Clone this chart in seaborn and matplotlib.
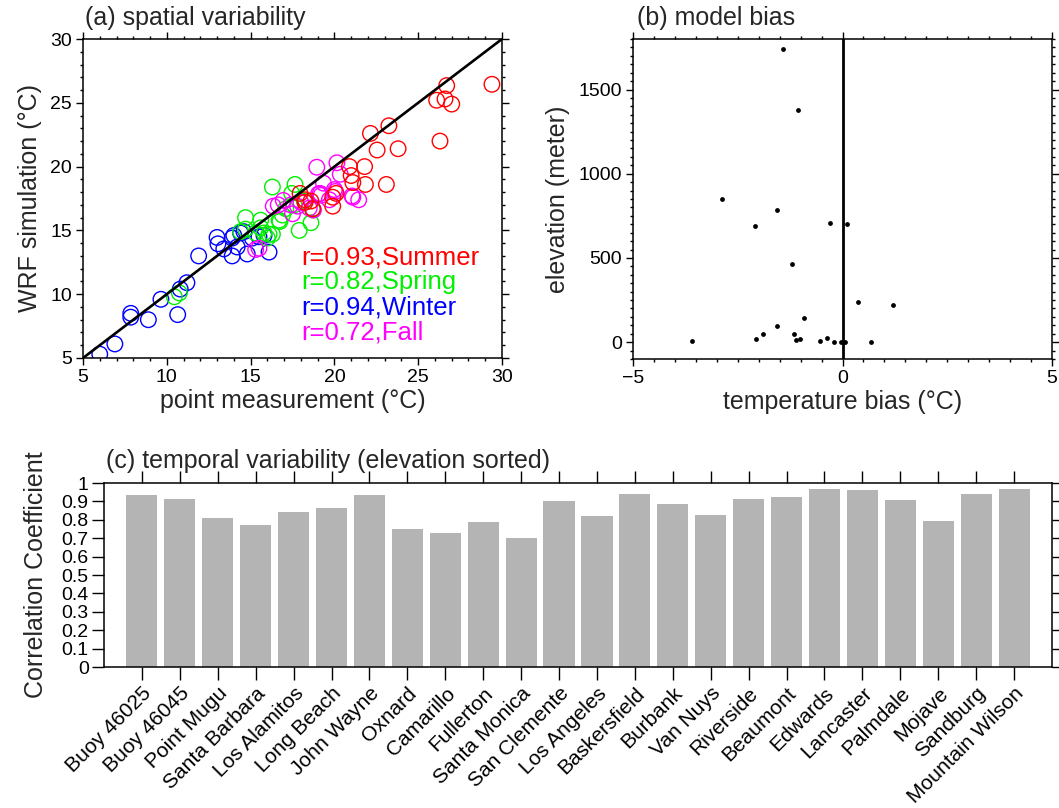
import numpy as np
import pandas as pd
import matplotlib
matplotlib.use("Agg")
import matplotlib.pyplot as plt
from matplotlib.ticker import MultipleLocator
import seaborn as sns

# ---- (a) seasonal mean temperature: point measurement vs WRF simulation ----
summer_obs = [29.4, 26.7, 26.1, 26.6, 27.0, 26.3, 22.15, 23.25, 22.55, 23.8, 20.9, 21.8,
              21.0, 21.1, 21.85, 23.1, 19.9, 20.1, 19.9, 18.25, 18.7, 18.6, 17.95, 18.25]
summer_wrf = [26.45, 26.35, 25.2, 25.3, 24.9, 22.0, 22.6, 23.2, 21.3, 21.4, 20.0, 20.0,
              19.3, 18.75, 18.6, 18.6, 17.6, 17.9, 16.9, 17.4, 16.7, 17.3, 17.9, 17.2]
spring_obs = [10.45, 10.75, 14.4, 14.7, 14.7, 15.3, 15.6, 15.6, 15.8, 16.0, 16.1, 16.3,
              16.3, 16.7, 16.75, 17.1, 17.45, 17.65, 17.9, 18.6, 18.2, 17.6, 16.9, 18.7]
spring_wrf = [9.8, 10.1, 14.9, 15.1, 16.0, 14.8, 15.8, 15.2, 14.8, 14.4, 14.7, 14.7,
              18.4, 15.8, 15.7, 16.7, 17.9, 18.6, 15.0, 15.6, 17.3, 17.0, 16.2, 16.6]
winter_obs = [6.0, 6.9, 7.85, 7.85, 8.9, 9.65, 10.65, 10.8, 11.2, 11.9, 13.0, 13.05,
              13.4, 13.9, 13.9, 14.2, 14.4, 14.8, 15.1, 16.1, 14.0, 14.6, 15.5, 15.8]
winter_wrf = [5.3, 6.1, 8.5, 8.2, 8.0, 9.6, 8.4, 10.4, 10.9, 13.0, 14.45, 13.95,
              13.55, 14.4, 13.0, 13.7, 14.8, 13.15, 14.4, 13.3, 14.6, 14.9, 14.5, 14.6]
fall_obs = [15.3, 15.5, 16.35, 16.65, 16.95, 17.4, 18.5, 18.75, 18.95, 20.15, 20.35, 19.35,
            19.05, 20.05, 21.05, 21.45, 19.15, 19.2, 18.0, 17.8, 21.1, 17.5, 20.0, 19.7]
fall_wrf = [13.5, 13.6, 16.9, 17.0, 17.35, 17.0, 16.75, 16.6, 19.95, 20.3, 19.4, 18.7,
            17.85, 18.05, 17.7, 17.4, 17.9, 17.75, 17.2, 16.9, 17.6, 16.3, 18.2, 17.4]

seasons = ["Summer", "Spring", "Winter", "Fall"]
season_r = [0.93, 0.82, 0.94, 0.72]
season_colors = {"Summer": "#ff0000", "Spring": "#00f000", "Winter": "#0000ff", "Fall": "#ff00ff"}

# ---- (b) station elevation vs temperature bias ----
bias = [-1.42, -1.06, -2.88, -1.56, -2.09, -0.30, 0.11, -1.20, 0.38, 1.21, -0.93, -1.57,
        -1.16, -1.90, -2.07, -3.59, -1.11, -1.01, -0.54, -0.37, -0.21, -0.04, 0.06, 0.67]
elevation = [1741, 1378, 849, 783, 690, 710, 700, 465, 239, 219, 145, 95,
             50, 50, 16, 6, 12, 18, 8, 26, 0, 0, 0, 0]
bias_ticks = [-5, 0, 5]
bias_tick_labels = ["\u22125", "0", "5"]
elev_ticks = [0, 500, 1000, 1500]

# ---- (c) temporal correlation per station, sorted by elevation ----
stations = ["Buoy 46025", "Buoy 46045", "Point Mugu", "Santa Barbara", "Los Alamitos",
            "Long Beach", "John Wayne", "Oxnard", "Camarillo", "Fullerton", "Santa Monica",
            "San Clemente", "Los Angeles", "Baskersfield", "Burbank", "Van Nuys", "Riverside",
            "Beaumont", "Edwards", "Lancaster", "Palmdale", "Mojave", "Sandburg",
            "Mountain Wilson"]
corr = [0.936, 0.914, 0.81, 0.772, 0.843, 0.865, 0.936, 0.75, 0.728, 0.79, 0.70, 0.903,
        0.82, 0.941, 0.887, 0.826, 0.914, 0.925, 0.968, 0.963, 0.909, 0.795, 0.941, 0.968]
corr_ticks = [0, 0.1, 0.2, 0.3, 0.4, 0.5, 0.6, 0.7, 0.8, 0.9, 1.0]
corr_tick_labels = ["0", "0.1", "0.2", "0.3", "0.4", "0.5", "0.6", "0.7", "0.8", "0.9", "1"]

sns.set_theme(style="ticks")
plt.rcParams["font.family"] = ["Liberation Sans", "DejaVu Sans"]
plt.rcParams["axes.linewidth"] = 1.1
plt.rcParams["mathtext.default"] = "regular"

W, H = 1059, 808
fig = plt.figure(figsize=(W / 100, H / 100), dpi=100)


def frac(l, t, r, b):
    return [l / W, 1 - b / H, (r - l) / W, (b - t) / H]


def style_ticks(ax, major_len=5, minor_len=2.5):
    ax.tick_params(which="both", direction="out", top=True, right=True,
                   colors="black", width=1.0, labelsize=14, pad=3)
    ax.tick_params(which="major", length=major_len)
    ax.tick_params(which="minor", length=minor_len)
    for sp in ax.spines.values():
        sp.set_visible(True)
        sp.set_color("black")
        sp.set_linewidth(1.1)


# (a) spatial variability
ax1 = fig.add_axes(frac(83, 39, 502, 358))
frames = []
for name, xo, yw in [("Winter", winter_obs, winter_wrf), ("Spring", spring_obs, spring_wrf),
                     ("Fall", fall_obs, fall_wrf), ("Summer", summer_obs, summer_wrf)]:
    frames.append(pd.DataFrame({"obs": xo, "wrf": yw, "season": name}))
df_a = pd.concat(frames, ignore_index=True)
sns.scatterplot(data=df_a, x="obs", y="wrf", hue="season", palette=season_colors,
                s=125, legend=False, ax=ax1, linewidth=1.0)
pts = ax1.collections[-1]
pts.set_edgecolors(pts.get_facecolors())
pts.set_facecolors("none")
ax1.axline((5, 5), slope=1, color="black", lw=1.9, zorder=3)
ax1.set_xlim(5, 30)
ax1.set_ylim(5, 30)
ax1.xaxis.set_major_locator(MultipleLocator(5))
ax1.yaxis.set_major_locator(MultipleLocator(5))
ax1.xaxis.set_minor_locator(MultipleLocator(1))
ax1.yaxis.set_minor_locator(MultipleLocator(1))
style_ticks(ax1)
ax1.set_xlabel("point measurement (°C)", fontsize=18, labelpad=2)
ax1.set_ylabel("WRF simulation (°C)", fontsize=18, labelpad=6)
for i, (name, r) in enumerate(zip(seasons, season_r)):
    ax1.text(18.05, 12.9 - 1.96 * i, f"r={r:.2f},{name}", color=season_colors[name],
             fontsize=18.5, va="center", ha="left")
fig.text(85 / W, 1 - 18 / H, "(a) spatial variability", fontsize=18, va="center", ha="left")

# (b) model bias
ax2 = fig.add_axes(frac(633, 39, 1052, 359))
df_b = pd.DataFrame({"bias": bias, "elev": elevation})
sns.scatterplot(data=df_b, x="bias", y="elev", color="black", s=12, linewidth=0,
                ax=ax2, zorder=4)
ax2.axvline(0, color="black", lw=2.0, zorder=3)
ax2.set_xticks(bias_ticks, bias_tick_labels)
ax2.set_yticks(elev_ticks)
ax2.xaxis.set_minor_locator(MultipleLocator(0.5))
ax2.yaxis.set_minor_locator(MultipleLocator(50))
ax2.set_xlim(-5, 5)
ax2.set_ylim(-100, 1800)
style_ticks(ax2, major_len=5, minor_len=2)
ax2.set_xlabel("temperature bias (°C)", fontsize=18, labelpad=2)
ax2.set_ylabel("elevation (meter)", fontsize=18, labelpad=6)
fig.text(637 / W, 1 - 18 / H, "(b) model bias", fontsize=18, va="center", ha="left")

# (c) temporal variability
ax3 = fig.add_axes(frac(104, 483, 1052, 667))
df_c = pd.DataFrame({"station": stations, "corr": corr})
sns.barplot(data=df_c, x="station", y="corr", color="#b4b4b4", saturation=1,
            width=0.82, ax=ax3, edgecolor="none", linewidth=0)
ax3.set_xlim(-1, 24)
ax3.set_ylim(0, 1)
ax3.set_yticks(corr_ticks, corr_tick_labels)
style_ticks(ax3, major_len=9)
ax3.tick_params(axis="y", pad=2)
ax3.set_xticks(range(len(stations)))
ax3.set_xticklabels(stations, rotation=45, ha="right", rotation_mode="anchor", fontsize=15)
ax3.set_xlabel("")
ax3.set_ylabel("Correlation Coefficient", fontsize=18, labelpad=10)
fig.text(106 / W, 1 - 461 / H, "(c) temporal variability (elevation sorted)",
         fontsize=18, va="center", ha="left")

fig.savefig("out.png", dpi=100, facecolor="white")
